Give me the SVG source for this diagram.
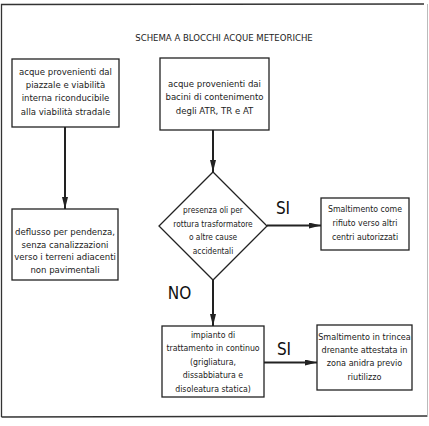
<svg xmlns="http://www.w3.org/2000/svg" width="429" height="426" viewBox="0 0 429 426">
<defs>
<style>
.box{fill:#fff;stroke:#222;stroke-width:1.3}
.t{font-family:"DejaVu Sans Condensed","Liberation Sans",sans-serif;font-size:9.5px;fill:#222;text-anchor:middle}
.s{font-size:8.3px}
.m{font-size:8.7px}
.n{font-size:9px}
.big{font-family:"DejaVu Sans Condensed","Liberation Sans",sans-serif;font-size:17px;fill:#111;text-anchor:middle}
.c{stroke:#222;stroke-width:2;fill:none}
</style>
<marker id="ah" viewBox="0 0 12 6" refX="12" refY="3" markerWidth="12" markerHeight="6" markerUnits="userSpaceOnUse" orient="auto">
<path d="M0,0 L12,3 L0,6 Z" fill="#222"/>
</marker>
</defs>
<rect width="429" height="426" fill="#fff"/>
<g id="frame">
<path d="M1.5,417 L1.5,4.5 L424,4" stroke="#333" stroke-width="1.3" fill="none"/>
<path d="M1.5,417 L428,416" stroke="#333" stroke-width="1.5" fill="none"/>
<path d="M427.5,4 L427.5,417" stroke="#bbb" stroke-width="1" fill="none"/>
</g>
<text id="title" class="t" x="224" y="41" font-size="9">SCHEMA A BLOCCHI ACQUE METEORICHE</text>
<g id="connectors">
<line class="c" x1="65" y1="127" x2="65" y2="209" marker-end="url(#ah)"/>
<line class="c" x1="213" y1="130" x2="213" y2="172" marker-end="url(#ah)"/>
<line class="c" x1="267" y1="225.5" x2="321" y2="225.5" marker-end="url(#ah)"/>
<line class="c" x1="213" y1="280" x2="213" y2="326" marker-end="url(#ah)"/>
<line class="c" x1="264" y1="362.5" x2="317" y2="362.5" marker-end="url(#ah)"/>
<text class="big" x="283" y="214">SI</text>
<text class="big" x="179.5" y="299">NO</text>
<text class="big" x="284" y="355">SI</text>
</g>
<g id="n1">
<rect class="box" x="12" y="59" width="107" height="68"/>
<text class="t" x="65.5" y="74.5">acque provenienti dal</text>
<text class="t" x="65.5" y="87.5">piazzale e viabilità</text>
<text class="t" x="65.5" y="101">interna riconducibile</text>
<text class="t" x="65.5" y="114.5">alla viabilità stradale</text>
</g>
<g id="n2">
<rect class="box" x="160" y="58" width="109" height="72"/>
<text class="t" x="214.5" y="86.5">acque provenienti dai</text>
<text class="t" x="214.5" y="100">bacini di contenimento</text>
<text class="t" x="214.5" y="113.5">degli ATR, TR e AT</text>
</g>
<g id="n3">
<rect class="box" x="12" y="209" width="106" height="71"/>
<text class="t" x="65" y="235">deflusso per pendenza,</text>
<text class="t" x="65" y="247.5">senza canalizzazioni</text>
<text class="t" x="65" y="260">verso i terreni adiacenti</text>
<text class="t" x="65" y="273">non pavimentali</text>
</g>
<g id="n4">
<path class="box" d="M213,172 L267,226 L213,280 L159,226 Z"/>
<text class="t s" x="213" y="212.5">presenza oli per</text>
<text class="t s" x="213" y="226.5">rottura trasformatore</text>
<text class="t s" x="213" y="240">o altre cause</text>
<text class="t s" x="213" y="253.5">accidentali</text>
</g>
<g id="n5">
<rect class="box" x="321" y="198" width="88" height="52"/>
<text class="t m" x="365" y="211.5">Smaltimento come</text>
<text class="t m" x="365" y="225.5">rifiuto verso altri</text>
<text class="t m" x="365" y="239.5">centri autorizzati</text>
</g>
<g id="n6">
<rect class="box" x="162" y="326" width="102" height="71"/>
<text class="t m" x="213" y="338">impianto di</text>
<text class="t m" x="213" y="351">trattamento in continuo</text>
<text class="t m" x="213" y="365">(grigliatura,</text>
<text class="t m" x="213" y="378">dissabbiatura e</text>
<text class="t m" x="213" y="392">disoleatura statica)</text>
</g>
<g id="n7">
<rect class="box" x="317" y="325" width="95" height="65"/>
<text class="t n" x="364.5" y="340">Smaltimento in trincea</text>
<text class="t n" x="364.5" y="353">drenante attestata in</text>
<text class="t n" x="364.5" y="366">zona anidra previo</text>
<text class="t n" x="364.5" y="379.5">riutilizzo</text>
</g>
</svg>
